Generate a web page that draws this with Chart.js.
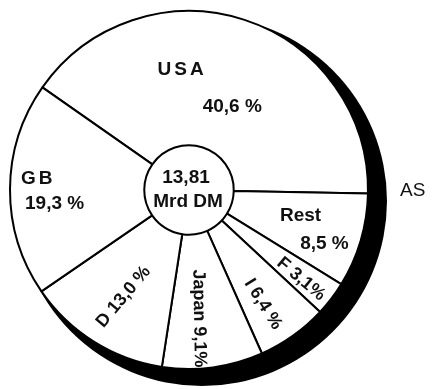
<!DOCTYPE html>
<html>
<head>
<meta charset="utf-8">
<script src="https://cdn.jsdelivr.net/npm/chart.js@4.4.0/dist/chart.umd.min.js"></script>
<style>
  html, body { margin: 0; padding: 0; background: #fff; }
  #wrap { width: 432px; height: 389px; }
</style>
</head>
<body>
<div id="wrap"><canvas id="pieChart" width="432" height="389"></canvas></div>
<script>
// values, clockwise starting with USA
const categories = ["USA", "Rest", "F", "I", "Japan", "D", "GB"];
const shares = [40.6, 8.5, 3.1, 6.4, 9.1, 13.0, 19.3];
const shareLabels = ["40,6 %", "8,5 %", "3,1%", "6,4 %", "9,1%", "13,0 %", "19,3 %"];
const totalLines = ["13,81", "Mrd DM"];
const sideNote = "AS";

// label placement: fraction of radius, angle (deg, clockwise from 3 o'clock), text rotation
// two entries = name and value on separate lines, one entry = "name value" on one line
const labelPlaces = {
  USA: [{ r: 0.675, a: 266.7, rot: 0 }, { r: 0.525, a: 297.4, rot: 0 }],
  Rest: [{ r: 0.64, a: 13.2, rot: 0 }, { r: 0.815, a: 21.8, rot: 0 }],
  F: [{ r: 0.8, a: 38.5, rot: 40 }],
  I: [{ r: 0.76, a: 57, rot: 58 }],
  Japan: [{ r: 0.72, a: 85.5, rot: 89 }],
  D: [{ r: 0.7, a: 121.5, rot: -50 }],
  GB: [{ r: 0.845, a: 184.2, rot: 0 }, { r: 0.755, a: 174.1, rot: 0 }],
};

const FONT = '"Liberation Sans", Arial, Helvetica, sans-serif';

// black offset disc behind the pie (the "shadow" crescent)
const shadowPlugin = {
  id: "shadow",
  beforeDatasetsDraw(chart) {
    const arc = chart.getDatasetMeta(0).data[0];
    if (!arc) return;
    const { x, y, outerRadius } = arc.getProps(["x", "y", "outerRadius"], true);
    const ctx = chart.ctx;
    ctx.save();
    ctx.fillStyle = "#000";
    ctx.beginPath();
    ctx.arc(x + 13, y + 11, outerRadius + 6, 0, Math.PI * 2);
    ctx.fill();
    ctx.fillStyle = "#fff";
    ctx.beginPath();
    ctx.arc(x, y, outerRadius, 0, Math.PI * 2);
    ctx.fill();
    ctx.restore();
  },
};

const labelPlugin = {
  id: "sliceLabels",
  afterDatasetsDraw(chart) {
    const arc = chart.getDatasetMeta(0).data[0];
    if (!arc) return;
    const { x, y, outerRadius } = arc.getProps(["x", "y", "outerRadius"], true);
    const ctx = chart.ctx;
    ctx.save();
    ctx.fillStyle = "#111";
    ctx.textAlign = "center";
    ctx.textBaseline = "middle";

    categories.forEach((name, i) => {
      const places = labelPlaces[name];
      const texts = places.length === 2 ? [name, shareLabels[i]] : [name + " " + shareLabels[i]];
      places.forEach((p, j) => {
        const ang = (p.a * Math.PI) / 180;
        const px = x + Math.cos(ang) * p.r * outerRadius;
        const py = y + Math.sin(ang) * p.r * outerRadius;
        ctx.save();
        ctx.translate(px, py);
        ctx.rotate((p.rot * Math.PI) / 180);
        ctx.font = "bold " + (p.rot ? 18 : 19) + "px " + FONT;
        ctx.letterSpacing = (j === 0 && places.length === 2 && name.length <= 3) ? "3px" : "0px";
        ctx.fillText(texts[j], 0, 0);
        ctx.restore();
      });
    });

    // total in the hole
    ctx.font = "bold 19px " + FONT;
    ctx.letterSpacing = "0px";
    ctx.fillText(totalLines[0], x - 3, y - 12);
    ctx.fillText(totalLines[1], x - 1, y + 12);

    // cut-off note at the right edge
    ctx.font = "19px " + FONT;
    ctx.textAlign = "left";
    ctx.fillText(sideNote, 400, y + 1);
    ctx.restore();
  },
};

const ctx = document.getElementById("pieChart").getContext("2d");
const pieChart = new Chart(ctx, {
  type: "doughnut",
  data: {
    labels: categories,
    datasets: [
      {
        data: shares,
        backgroundColor: "#fff",
        borderColor: "#000",
        borderWidth: 2,
      },
    ],
  },
  options: {
    responsive: false,
    animation: false,
    events: [],
    rotation: 305,
    cutout: "25%",
    layout: {
      padding: { left: 9, top: 10, right: 63, bottom: 19 },
    },
    plugins: {
      legend: { display: false },
      tooltip: { enabled: false },
    },
  },
  plugins: [shadowPlugin, labelPlugin],
});
</script>
</body>
</html>
